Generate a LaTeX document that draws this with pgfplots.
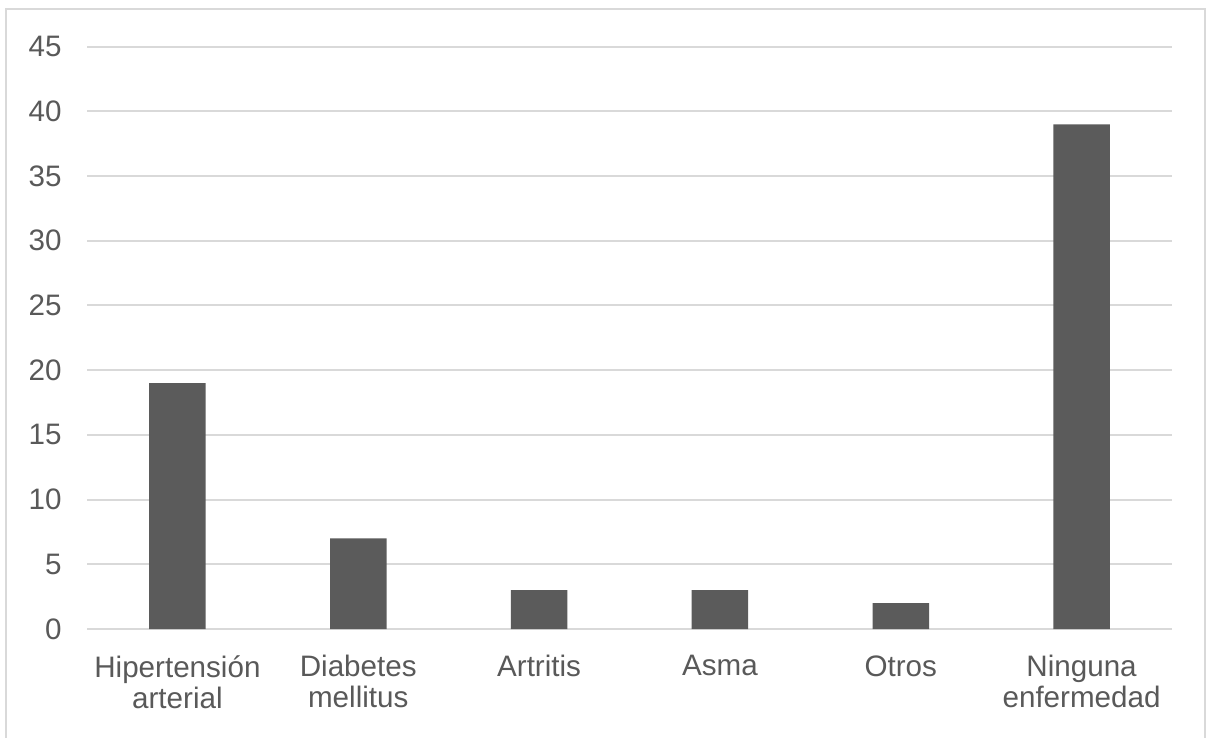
\documentclass[border=0pt]{standalone}
\usepackage{fontspec}
\setmainfont{Liberation Sans}
\usepackage{pgfplots}
\pgfplotsset{compat=1.18}
\definecolor{bargray}{HTML}{5B5B5B}
\definecolor{gridgray}{HTML}{D9D9D9}
\definecolor{textgray}{HTML}{595959}

\begin{document}
\begin{tikzpicture}
% page frame
\useasboundingbox (0,0) rectangle (603pt,-369pt);
\draw[gridgray, line width=1pt] (3pt,-369pt) -- (3pt,-4.5pt) -- (602.5pt,-4.5pt) -- (602.5pt,-369pt);

\begin{axis}[
  at={(43.5pt,-314.5pt)}, anchor=south west,
  scale only axis,
  width=542.5pt, height=291.2pt,
  xmin=-0.5, xmax=5.5,
  ymin=0, ymax=45,
  ytick={0,5,...,45},
  xtick={0,...,5},
  xticklabels={{Hipertensión\\arterial},{Diabetes\\mellitus},{Artritis},{Asma},{Otros},{Ninguna\\enfermedad}},
  ymajorgrids,
  grid style={gridgray, line width=1pt},
  axis line style={draw=none},
  major tick length=0pt,
  /pgf/number format/assume math mode=true,
  tick label style={font=\fontsize{14.8}{15.5}\selectfont, text=textgray, inner sep=0pt},
  yticklabel style={xshift=-12.5pt},
  xticklabel style={align=center, yshift=-13pt},
]
\addplot[ybar, fill=bargray, draw=none, bar width=28.25pt]
  coordinates {(0,19) (1,7) (2,3) (3,3) (4,2) (5,39)};
\end{axis}
\end{tikzpicture}
\end{document}
